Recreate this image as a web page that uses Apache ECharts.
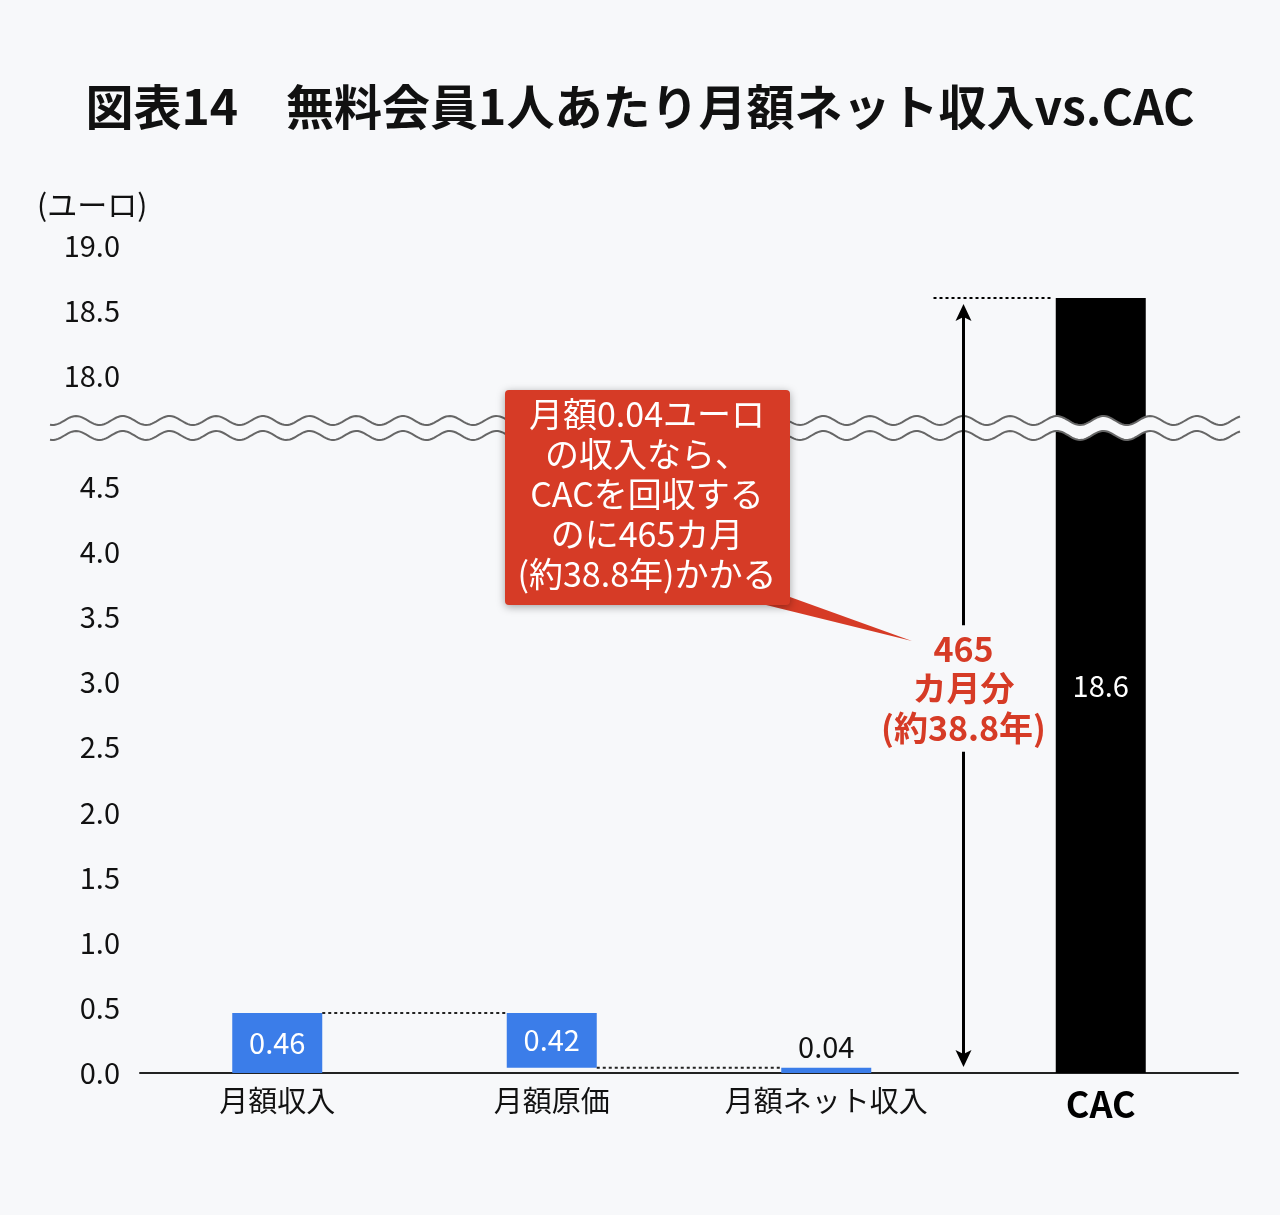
<!DOCTYPE html>
<html lang="ja" style="height: 100%">
<head>
  <meta charset="utf-8">
</head>
<body style="height: 100%; margin: 0; background: #f7f8fa">
  <div id="container" style="height: 100%"></div>

  <script type="text/javascript" src="https://fastly.jsdelivr.net/npm/echarts@6.0.0/dist/echarts.min.js"></script>

  <script type="text/javascript">
    // --- data ---
    var categories = ['月額収入', '月額原価', '月額ネット収入', 'CAC'];
    var barValues = [0.46, 0.42, 0.04, 18.6];
    var barBases = [0, 0.04, 0, 0];
    var yTickValues = [0, 0.5, 1.0, 1.5, 2.0, 2.5, 3.0, 3.5, 4.0, 4.5, 18.0, 18.5, 19.0];
    // [from category, to category, level]
    var connectors = [[0, 1, 0.46], [1, 2, 0.04]];
    // payback arrow: between category 2 and 3, up to CAC
    var paybackArrow = [[2, 3, 18.6]];
    var paybackLabel = '465\nカ月分\n(約38.8年)';
    var noteText = '月額0.04ユーロ\nの収入なら、\nCACを回収する\nのに465カ月\n(約38.8年)かかる';

    var BG = '#f7f8fa';
    var BLUE = '#3b7de9';
    var RED = '#d63b26';
    var FONT = '"Noto Sans CJK JP", "Noto Sans", sans-serif';
    var BAR_WIDTH = 90;

    // broken axis: 18.0 sits just above 4.5
    var UPPER_FROM = 18.0, UPPER_AT = 5.35;
    function toDisp(v) { return v >= 10 ? v - UPPER_FROM + UPPER_AT : v; }
    function fromDisp(d) { return d > 5.1 ? d - UPPER_AT + UPPER_FROM : d; }
    var WAVE_LEVELS = [5.01, 4.895];

    var dom = document.getElementById('container');
    var myChart = echarts.init(dom, null, { renderer: 'canvas' });

    var baseData = barBases.map(function (b) { return toDisp(b); });
    var heightData = barValues.map(function (v, i) {
      var h = toDisp(barBases[i] + v) - toDisp(barBases[i]);
      var item = { value: h, label: { position: 'inside', color: '#fff' } };
      if (i === 2) item.label = { position: 'top', color: '#111', distance: 6 };
      if (i === 3) item.itemStyle = { color: '#000' };
      return item;
    });

    function renderConnector(params, api) {
      var v = api.value(1);
      var p1 = api.coord([api.value(0), v]);
      var p2 = api.coord([api.value(2), v]);
      return {
        type: 'line',
        shape: { x1: p1[0] + BAR_WIDTH / 2, y1: p1[1], x2: p2[0] - BAR_WIDTH / 2, y2: p2[1] },
        style: { stroke: '#222', lineWidth: 2, lineDash: [3, 3] }
      };
    }

    function wavePoints(x0, x1, yc) {
      var pts = [];
      var P = 46.7, A = 4.5, crest = 916.7;
      for (var x = x0; x <= x1; x += 2) {
        pts.push([x, yc - A * Math.cos(2 * Math.PI * (x - crest) / P)]);
      }
      return pts;
    }

    function renderBreak(params, api) {
      var cs = params.coordSys;
      var x0 = cs.x - 90, x1 = cs.x + cs.width + 3;
      var yA = api.coord([0, WAVE_LEVELS[0]])[1];
      var yB = api.coord([0, WAVE_LEVELS[1]])[1];
      var top = wavePoints(x0, x1, yA);
      var bot = wavePoints(x0, x1, yB);
      return {
        type: 'group',
        children: [
          { type: 'polygon', shape: { points: top.concat(bot.slice().reverse()) }, style: { fill: BG } },
          { type: 'polyline', shape: { points: top }, style: { stroke: '#666', lineWidth: 2, fill: null } },
          { type: 'polyline', shape: { points: bot }, style: { stroke: '#666', lineWidth: 2, fill: null } }
        ]
      };
    }

    function renderArrow(params, api) {
      var a = paybackArrow[params.dataIndex];
      var pFrom = api.coord([a[0], 0]);
      var pTo = api.coord([a[1], 0]);
      var x = (pFrom[0] + pTo[0]) / 2;
      var yTop = api.coord([a[1], toDisp(a[2])])[1];
      var yBase = pTo[1];
      var tipT = yTop + 6, tipB = yBase - 6;
      return {
        type: 'group',
        children: [
          { type: 'line', shape: { x1: x - 30, y1: yTop, x2: pTo[0] - BAR_WIDTH / 2 - 3, y2: yTop },
            style: { stroke: '#000', lineWidth: 2, lineDash: [3, 3] } },
          { type: 'line', shape: { x1: x, y1: tipT + 10, x2: x, y2: tipB - 10 },
            style: { stroke: '#000', lineWidth: 3 } },
          { type: 'polygon', shape: { points: [[x, tipT], [x - 8, tipT + 17], [x, tipT + 13], [x + 8, tipT + 17]] },
            style: { fill: '#000' } },
          { type: 'polygon', shape: { points: [[x, tipB], [x - 8, tipB - 17], [x, tipB - 13], [x + 8, tipB - 17]] },
            style: { fill: '#000' } },
          { type: 'text', x: x, y: (tipT + tipB) / 2 + 3,
            style: { text: paybackLabel, font: 'bold 34px ' + FONT, fill: RED, align: 'center',
              verticalAlign: 'middle', lineHeight: 39.5, backgroundColor: BG, padding: [4, 4] } }
        ]
      };
    }

    var option = {
      backgroundColor: BG,
      textStyle: { fontFamily: FONT },
      animation: false,
      title: {
        text: '図表14　無料会員1人あたり月額ネット収入vs.CAC',
        left: 'center',
        top: 78,
        textStyle: { fontSize: 48, fontWeight: 'bold', color: '#111', fontFamily: FONT }
      },
      grid: { left: 140, right: 42, top: 246, bottom: 142 },
      xAxis: {
        type: 'category',
        data: categories.map(function (c) {
          return c === 'CAC' ? { value: c, textStyle: { fontSize: 36, fontWeight: 'bold', color: '#000' } } : c;
        }),
        axisLine: { lineStyle: { color: '#222', width: 2 } },
        axisTick: { show: false },
        axisLabel: { fontSize: 29, color: '#111', margin: 13 }
      },
      yAxis: {
        type: 'value',
        min: 0,
        max: toDisp(19.0),
        splitLine: { show: false },
        axisLine: { show: false },
        axisTick: { show: false },
        axisLabel: {
          customValues: yTickValues.map(toDisp),
          fontSize: 29,
          color: '#111',
          margin: 20,
          formatter: function (v) { return fromDisp(v).toFixed(1); }
        }
      },
      graphic: [
        { type: 'text', left: 37, top: 190, z: 50,
          style: { text: '(ユーロ)', font: '30px ' + FONT, fill: '#111' } },
        { type: 'polygon', z: 100, shape: { points: [[762, 604], [790, 597], [912, 641]] },
          style: { fill: RED } },
        { type: 'rect', z: 100, shape: { x: 505, y: 390, width: 285, height: 215, r: 4 },
          style: { fill: RED, shadowBlur: 8, shadowColor: 'rgba(0,0,0,0.35)', shadowOffsetY: 2 } },
        { type: 'text', z: 101, x: 647, y: 494,
          style: { text: noteText, font: '34px ' + FONT, fill: '#fff', align: 'center',
            verticalAlign: 'middle', lineHeight: 40 } }
      ],
      series: [
        {
          name: 'base', type: 'bar', stack: 'w', barWidth: BAR_WIDTH, silent: true,
          itemStyle: { color: 'transparent' },
          data: baseData
        },
        {
          name: 'value', type: 'bar', stack: 'w', barWidth: BAR_WIDTH,
          itemStyle: { color: BLUE },
          label: {
            show: true, fontSize: 29, fontFamily: FONT,
            formatter: function (p) {
              var v = barValues[p.dataIndex];
              return v >= 10 ? v.toFixed(1) : v.toFixed(2);
            }
          },
          data: heightData
        },
        {
          name: 'connector', type: 'custom', z: 3, silent: true,
          renderItem: renderConnector,
          encode: { x: 0, y: 1 },
          data: connectors.map(function (c) { return [c[0], toDisp(c[2]), c[1]]; })
        },
        {
          name: 'break', type: 'custom', z: 4, silent: true,
          renderItem: renderBreak,
          encode: { x: 0, y: 1 },
          data: [[0, 0]]
        },
        {
          name: 'arrow', type: 'custom', z: 5, silent: true,
          renderItem: renderArrow,
          encode: { x: 0, y: 1 },
          data: paybackArrow.map(function (a) { return [a[1], 0]; })
        }
      ]
    };

    myChart.setOption(option);
    window.addEventListener('resize', myChart.resize);
  </script>
</body>
</html>
